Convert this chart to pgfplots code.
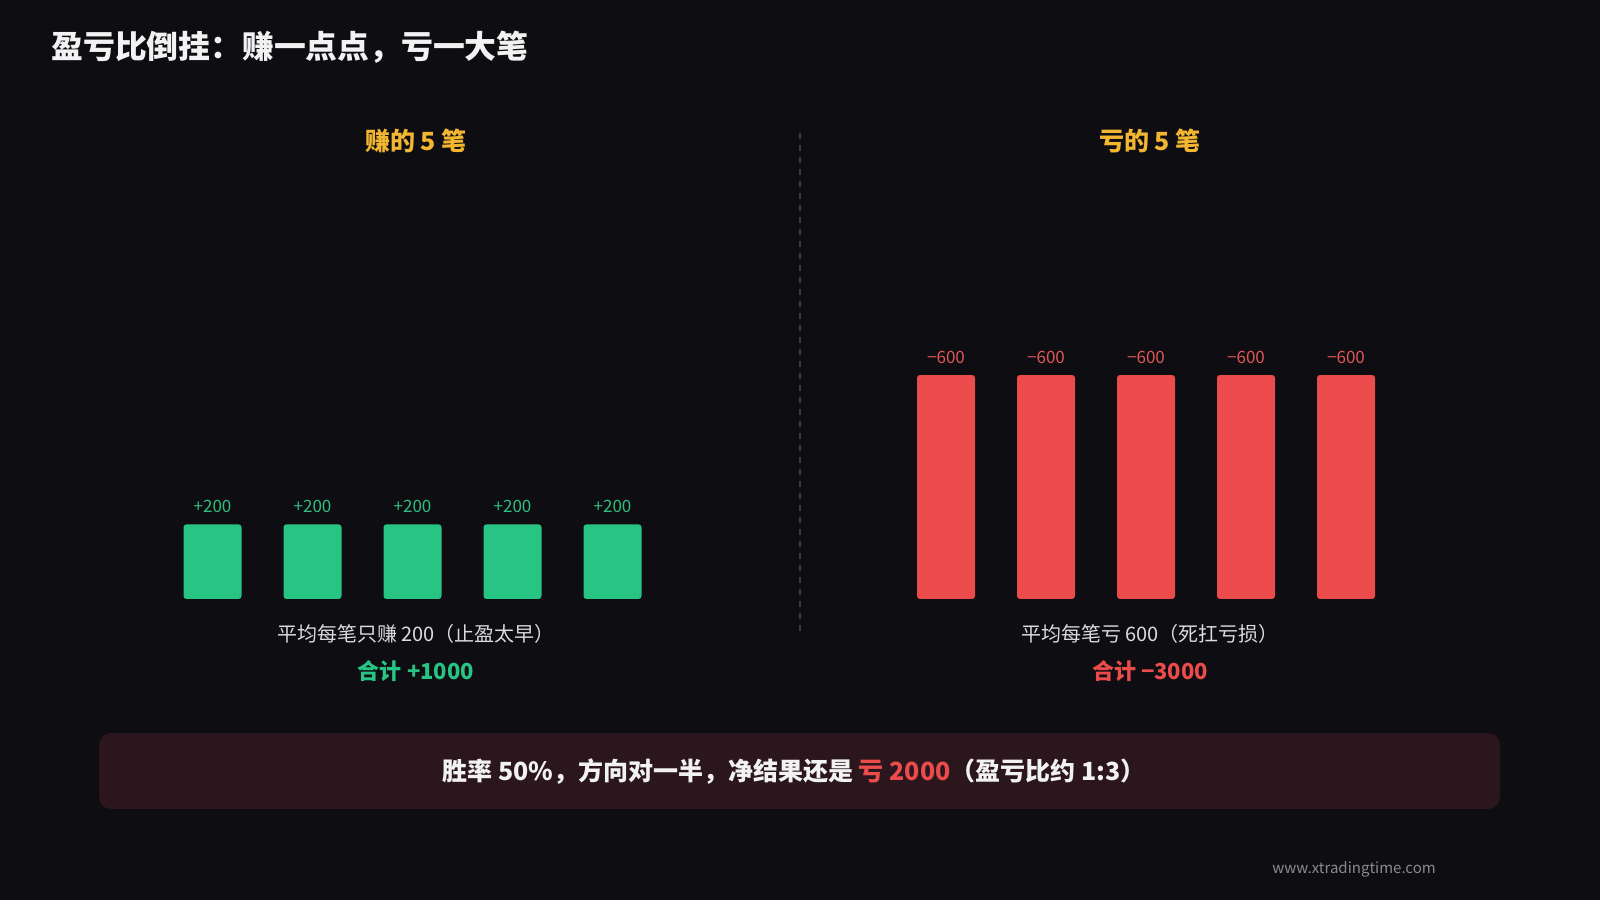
\documentclass[border=0pt]{standalone}
\usepackage{fontspec}
\setmainfont{Noto Sans CJK SC}
\usepackage{pgfplots}
\pgfplotsset{compat=1.18}
\definecolor{bg}{HTML}{0D0D12}
\definecolor{titlew}{HTML}{F2F2F2}
\definecolor{gold}{HTML}{F2B630}
\definecolor{gbar}{HTML}{27C484}
\definecolor{glab}{HTML}{2FBE80}
\definecolor{rbar}{HTML}{EB4B4B}
\definecolor{rlab}{HTML}{E05656}
\definecolor{captw}{HTML}{DCDCDC}
\definecolor{banner}{HTML}{2A161C}
\definecolor{dashc}{HTML}{3A3A42}
\definecolor{wm}{HTML}{8A8A8E}
\begin{document}
\begin{tikzpicture}[x=0.5pt,y=0.5pt]
\fill[bg] (0,0) rectangle (1600,900);
% title
\node[anchor=west, inner sep=0pt, text=titlew, font=\fontsize{15.9}{19}\selectfont\bfseries] at (51,853) {盈亏比倒挂：赚一点点，亏一大笔};
% subtitles
\node[text=gold, font=\fontsize{12.5}{15}\selectfont\bfseries] at (416,759) {赚的 5 笔};
\node[text=gold, font=\fontsize{12.5}{15}\selectfont\bfseries] at (1150,759) {亏的 5 笔};
% divider
\draw[dashc, line width=0.6pt, dash pattern=on 3pt off 3pt] (800,767) -- (800,267);
% left axis
\begin{axis}[at={(81.25pt,150.5pt)}, anchor=south west, scale only axis,
  width=250pt, height=112pt, xmin=-0.5, xmax=4.5, ymin=0, ymax=600,
  hide axis, clip=false, ybar, bar width=0.58,
  /pgf/number format/assume math mode=true,
  nodes near coords={+\pgfmathprintnumber{\pgfplotspointmeta}},
  every node near coord/.append style={font=\fontsize{8.5}{10}\selectfont, text=glab, anchor=base, inner sep=0pt, yshift=6pt}]
\addplot[fill=gbar, draw=none, rounded corners=1.5pt] coordinates {(0,200) (1,200) (2,200) (3,200) (4,200)};
\end{axis}
% right axis
\begin{axis}[at={(448pt,150.5pt)}, anchor=south west, scale only axis,
  width=250pt, height=112pt, xmin=-0.5, xmax=4.5, ymin=0, ymax=600,
  hide axis, clip=false, ybar, bar width=0.58,
  /pgf/number format/assume math mode=true,
  nodes near coords={−\pgfmathprintnumber{\pgfplotspointmeta}},
  every node near coord/.append style={font=\fontsize{8.5}{10}\selectfont, text=rlab, anchor=base, inner sep=0pt, yshift=6pt}]
\addplot[fill=rbar, draw=none, rounded corners=1.5pt] coordinates {(0,600) (1,600) (2,600) (3,600) (4,600)};
\end{axis}
% captions
\node[text=captw, font=\fontsize{10}{12}\selectfont] at (416,266) {平均每笔只赚 200（止盈太早）};
\node[text=gbar, font=\fontsize{11}{13}\selectfont\bfseries] at (416,229) {合计 +1000};
\node[text=captw, font=\fontsize{10}{12}\selectfont] at (1150,266) {平均每笔亏 600（死扛亏损）};
\node[text=rbar, font=\fontsize{11}{13}\selectfont\bfseries] at (1150,229) {合计 −3000};
% banner
\fill[banner, rounded corners=6pt] (99,91) rectangle (1500,167);
\node[text=titlew, font=\fontsize{12.5}{15}\selectfont\bfseries] at (794,128) {胜率 50\%，方向对一半，净结果还是 \textcolor{rbar}{亏 2000}（盈亏比约 1:3）};
% watermark
\node[text=wm, font=\fontsize{7.5}{9}\selectfont] at (1354,31) {www.xtradingtime.com};
\end{tikzpicture}
\end{document}
